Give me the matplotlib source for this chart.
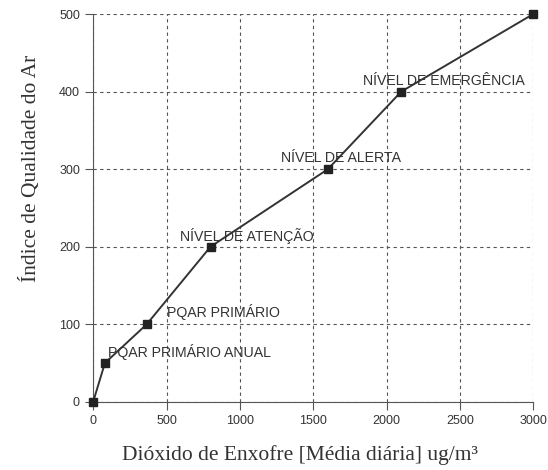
import matplotlib.pyplot as plt

so2 = [0, 80, 365, 800, 1600, 2100, 3000]
iqa = [0, 50, 100, 200, 300, 400, 500]

labels = ["PQAR PRIMÁRIO ANUAL", "PQAR PRIMÁRIO", "NÍVEL DE ATENÇÃO",
          "NÍVEL DE ALERTA", "NÍVEL DE EMERGÊNCIA"]
label_x = [100, 500, 590, 1280, 1840]
label_y = [64, 116, 214, 315, 414]

fig = plt.figure(figsize=(5.48, 4.70), dpi=100)
ax = fig.add_axes([0.170, 0.145, 0.803, 0.825])

ax.plot(so2, iqa, color="#333333", lw=1.4, marker="s", markersize=5.5,
        markerfacecolor="#222222", markeredgecolor="#222222", zorder=3,
        clip_on=False)

for t, x, y in zip(labels, label_x, label_y):
    ax.text(x, y, t, fontsize=10.2, color="#333333", va="center",
            family="Liberation Sans")

ax.set_xlim(0, 3000)
ax.set_ylim(0, 500)
ax.set_xticks(range(0, 3001, 500))
ax.set_yticks(range(0, 501, 100))
ax.grid(True, ls=(0, (3, 3)), color="#555555", lw=0.8)
for s in ["top", "right"]:
    ax.spines[s].set_visible(False)
for s in ["left", "bottom"]:
    ax.spines[s].set_color("#555555")
ax.tick_params(length=6, color="#555555", labelsize=9, labelcolor="#333333")
for lab in ax.get_xticklabels() + ax.get_yticklabels():
    lab.set_family("Liberation Sans")

ax.set_xlabel("Dióxido de Enxofre [Média diária] ug/m³", family="Liberation Serif",
              fontsize=15.5, color="#333333", va="center")
ax.set_ylabel("Índice de Qualidade do Ar", family="Liberation Serif",
              fontsize=15.5, color="#333333", va="center")
ax.xaxis.set_label_coords(0.47, -0.137)
ax.yaxis.set_label_coords(-0.143, 0.603)

plt.savefig("out.png")
